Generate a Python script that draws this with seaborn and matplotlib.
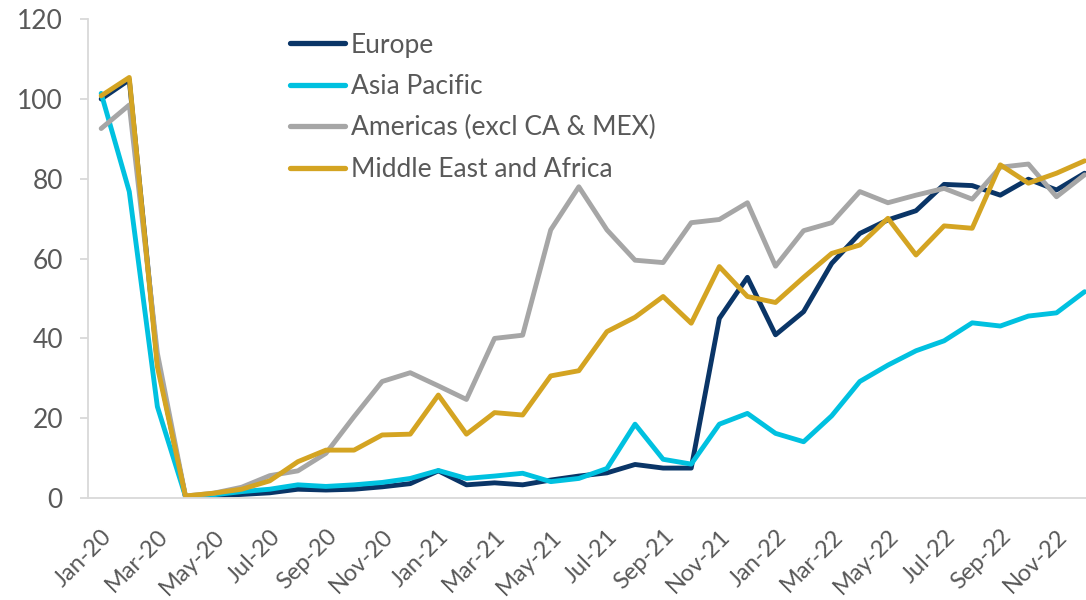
import numpy as np
import pandas as pd
import seaborn as sns
import matplotlib
matplotlib.use("Agg")
import matplotlib.pyplot as plt

# monthly index values, Jan-20 .. Dec-22
months = pd.date_range("2020-01-01", "2022-12-01", freq="MS").strftime("%b-%y").tolist()

europe = [100, 104.8, 34, 0.3, 0.5, 0.9, 1.3, 2.2, 2.0, 2.2, 2.8, 3.6,
          6.8, 3.3, 3.8, 3.3, 4.5, 5.5, 6.3, 8.4, 7.5, 7.5, 45, 55.3,
          40.9, 46.7, 58.8, 66.3, 69.7, 72, 78.6, 78.3, 75.9, 79.9, 77.2, 81.4]
asia_pacific = [101.4, 76.8, 22.9, 0.4, 0.8, 1.6, 2.2, 3.3, 2.9, 3.3, 3.9, 4.9,
                6.9, 4.9, 5.5, 6.2, 4.1, 4.9, 7.4, 18.5, 9.7, 8.5, 18.5, 21.2,
                16.2, 14.1, 20.6, 29.2, 33.3, 36.9, 39.4, 43.9, 43.1, 45.6, 46.4, 51.7]
americas = [92.6, 98.5, 36.3, 0.5, 1.2, 2.7, 5.6, 6.8, 11.2, 20.4, 29.2, 31.4,
            28.1, 24.7, 40, 40.8, 67.2, 78, 67.2, 59.6, 59, 69, 69.8, 74,
            58.1, 67, 69, 76.8, 74, 75.9, 77.6, 74.9, 82.9, 83.7, 75.5, 81]
mea = [100.8, 105.4, 32.9, 0.5, 1.2, 2.2, 4.3, 9.1, 12, 12, 15.8, 16,
       25.8, 16, 21.4, 20.8, 30.6, 31.9, 41.7, 45.3, 50.5, 43.8, 58, 50.5,
       49, 55.3, 61.3, 63.4, 70.1, 60.9, 68.2, 67.6, 83.5, 78.9, 81.4, 84.5]

series = {
    "Europe": europe,
    "Asia Pacific": asia_pacific,
    "Americas (excl CA & MEX)": americas,
    "Middle East and Africa": mea,
}
colors = ["#0a3567", "#00c1e0", "#a6a6a6", "#d4a422"]

rows = []
for name, vals in series.items():
    for i, v in enumerate(vals):
        rows.append([i, v, name])
df = pd.DataFrame(rows, columns=["idx", "value", "region"])

sns.set_theme(style="white")
plt.rcParams["font.family"] = ["Lato", "DejaVu Sans"]
text_col = "#595959"
axis_col = "#d9d9d9"

fig = plt.figure(figsize=(10.86, 6), dpi=100)
ax = fig.add_axes([0.081, 0.17, 0.919, 0.798])

sns.lineplot(data=df, x="idx", y="value", hue="region", palette=colors,
             linewidth=3.5, ax=ax, sort=False)

ax.set_xlim(-0.47, 35.05)
ax.set_ylim(0, 120)
ax.set_yticks(np.arange(0, 121, 20))
ax.set_xticks(range(0, len(months), 2))
ax.set_xticklabels(months[::2], rotation=45, ha="right", rotation_mode="anchor")
ax.set_xlabel("")
ax.set_ylabel("")

for s in ["top", "right"]:
    ax.spines[s].set_visible(False)
for s in ["left", "bottom"]:
    ax.spines[s].set_color(axis_col)
    ax.spines[s].set_linewidth(1.3)

ax.tick_params(axis="y", length=6, color=axis_col, width=1.3, labelsize=19,
               labelcolor=text_col, pad=12, left=True)
ax.tick_params(axis="x", length=0, labelsize=17, labelcolor=text_col, pad=20)

leg = ax.legend(loc="upper left", bbox_to_anchor=(0.2024, 0.972), frameon=False,
                fontsize=19, handlelength=2.1, handletextpad=0.2,
                labelspacing=0.62, borderaxespad=0, borderpad=0)
for t in leg.get_texts():
    t.set_color(text_col)
for h in leg.get_lines():
    h.set_linewidth(3.8)
    h.set_solid_capstyle("round")

fig.savefig("out.png", dpi=100)
